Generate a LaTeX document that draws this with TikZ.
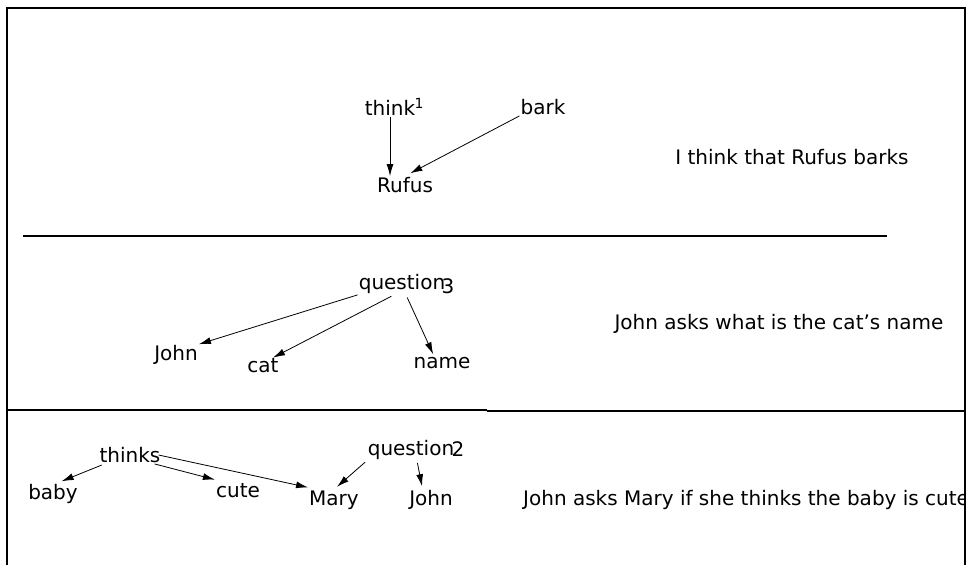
\documentclass[tikz,border=0pt]{standalone}
\usepackage{fontspec}
\setmainfont{DejaVu Sans}
\usetikzlibrary{arrows.meta}
\begin{document}
\begin{tikzpicture}[x=1pt,y=-1pt,
		>={Latex[length=12pt,width=7pt]},
		every node/.style={inner sep=1pt,font=\fontsize{20}{22}\selectfont},
		word/.style={anchor=center},
		idx/.style={font=\fontsize{14}{15}\selectfont},
		caption/.style={anchor=center},
		link/.style={->,line width=0.8pt},
		rule/.style={line width=1.2pt}]
		
		\useasboundingbox (0,0) rectangle (967,565);
		
		% frame and separators
		\draw[rule] (7,565) -- (7,8) -- (965,8) -- (965,565);
		\draw[rule] (23,236) -- (887,236);
		\draw[rule] (7,410) -- (487,410);
		\draw[rule] (487,411) -- (965,411);
		
		% first sentence
		\node[word] (think) at (390,108) {think};
		\node[idx] (think1) at (419,103) {1};
		\node[word] (bark) at (543,107) {bark};
		\node[word] (rufus) at (405,185) {Rufus};
		\node[caption] (cap1) at (792,157) {I think that Rufus barks};
		
		\draw[link]   (think.south) -- (think.south |- rufus.north);
		\draw[link,shorten >=6pt]   (bark.south west) -- (rufus.north);
		
		% second sentence
		\node[word] (question3) at (402,284) {question};
		\node[word] (q3idx) at (448,286) {3};
		\node[word] (john3) at (176,355) {John};
		\node[word] (cat) at (263,366) {cat};
		\node[word] (name) at (442,363) {name};
		\node[caption] (cap2) at (779,324) {John asks what is the cat's name};
		
		\draw[link]   (question3.south west) -- (john3.north east);
		\draw[link,shorten <=3pt]   ([xshift=-8pt]question3.south) -- ([xshift=10pt]cat.north);
		\draw[link,shorten <=3pt,shorten >=2pt]   ([xshift=4pt]question3.south) -- ([xshift=-8pt]name.north);
		
		% third sentence
		\node[word] (thinks) at (130,455) {thinks};
		\node[word] (baby) at (53,494) {baby};
		\node[word] (cute) at (238,491) {cute};
		\node[word] (mary) at (334,500) {Mary};
		\node[word] (question2) at (411,450) {question};
		\node[word] (q2idx) at (458,449) {2};
		\node[word] (john2) at (431,500) {John};
		\begin{scope}
			\clip (0,0) rectangle (964,565);
			\node[caption,anchor=west] (cap3) at (522,500) {John asks Mary if she thinks the baby is cute};
		\end{scope}
		
		\draw[link,shorten <=3pt,shorten >=5pt]   ([xshift=6pt]thinks.south west) -- ([xshift=4pt]baby.north);
		\draw[link]   (thinks.-20) -- ([yshift=3pt]cute.north west);
		\draw[link]   ([xshift=-3pt]thinks.east) -- ([yshift=2pt]mary.north west);
		\draw[link,shorten <=2pt,shorten >=4pt]   (question2.south west) -- (mary.north);
		\draw[link,shorten <=2pt]   ([xshift=6pt]question2.south) -- ([xshift=-9pt,yshift=3pt]john2.north);
		\end{tikzpicture}
\end{document}
